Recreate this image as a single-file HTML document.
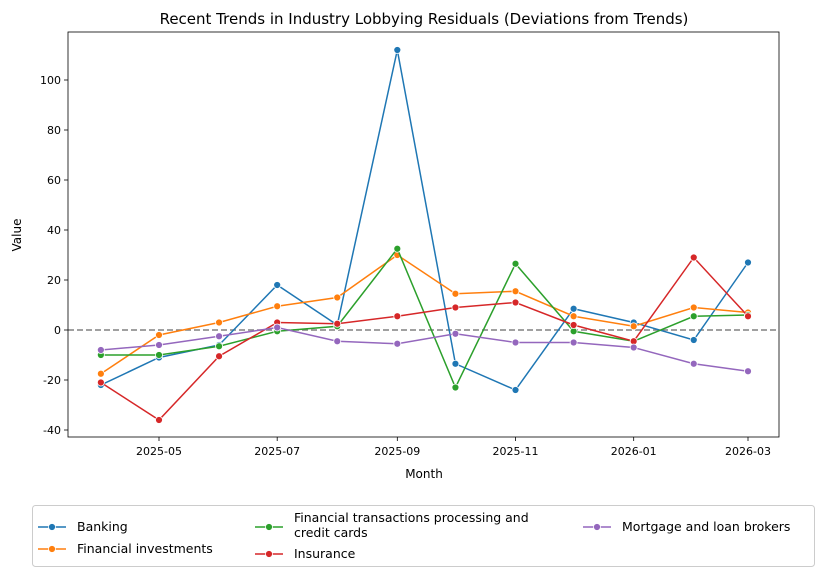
<!DOCTYPE html>
<html><head><meta charset="utf-8">
<style>
body{margin:0;background:#fff;font-family:"Liberation Sans","DejaVu Sans",sans-serif;}
svg text{font-family:"DejaVu Sans","Liberation Sans",sans-serif;fill:#000;}
</style></head>
<body>
<svg id="chart" width="824" height="577" xmlns="http://www.w3.org/2000/svg">
<rect width="824" height="577" fill="#fff"/>
<text x="424" y="24" font-size="15" text-anchor="middle">Recent Trends in Industry Lobbying Residuals (Deviations from Trends)</text>
<g id="grid"></g>
<rect x="68" y="32" width="711" height="405" fill="none" stroke="#000" stroke-width="0.8"/>
<text x="424" y="478" font-size="12" text-anchor="middle">Month</text>
<text transform="translate(21,235) rotate(-90)" font-size="12" text-anchor="middle">Value</text>
<g id="series"></g>
<g id="legend"></g>
</svg>
<script>
const months=["2025-04","2025-05","2025-06","2025-07","2025-08","2025-09","2025-10","2025-11","2025-12","2026-01","2026-02","2026-03"];
const seriesNames=["Banking","Financial investments","Financial transactions processing and credit cards","Insurance","Mortgage and loan brokers"];
const banking=[-22,-11,-6,18,2,112,-13.5,-24,8.5,3,-4,27];
const finInvest=[-17.5,-2,3,9.5,13,30,14.5,15.5,5.5,1.5,9,7];
const finTrans=[-10,-10,-6.5,-0.5,1.5,32.5,-23,26.5,-0.5,-4.5,5.5,6];
const insurance=[-21,-36,-10.5,3,2.5,5.5,9,11,2,-4.5,29,5.5];
const mortgage=[-8,-6,-2.5,1,-4.5,-5.5,-1.5,-5,-5,-7,-13.5,-16.5];
const yTicks=[-40,-20,0,20,40,60,80,100];
const xTicks=["2025-05","2025-07","2025-09","2025-11","2026-01","2026-03"];
const colors=["#1f77b4","#ff7f0e","#2ca02c","#d62728","#9467bd"];
const NS="http://www.w3.org/2000/svg";
function days(m){const [y,mo]=m.split("-").map(Number);return Date.UTC(y,mo-1,1)/864e5;}
const d0=days("2025-05"),d1=days("2026-03");
function X(m){return 159+(days(m)-d0)*(748-159)/(d1-d0);}
function Y(v){return 330-v*2.5;}
function el(t,a,p){const e=document.createElementNS(NS,t);for(const k in a)e.setAttribute(k,a[k]);p.appendChild(e);return e;}
const svg=document.getElementById("chart"),grid=document.getElementById("grid"),ser=document.getElementById("series"),leg=document.getElementById("legend");
yTicks.forEach(v=>{const y=Y(v);
 const t=el("line",{x1:64,x2:68,y1:y,y2:y,stroke:"#000","stroke-width":0.8},grid);
 
 const l=el("text",{x:61,y:y+4,"font-size":11,"text-anchor":"end"},grid);l.textContent=v;
 });
xTicks.forEach(m=>{const x=X(m);
 const t=el("line",{x1:x,x2:x,y1:437,y2:441,stroke:"#000","stroke-width":0.8},grid);
 
 const l=el("text",{x:x,y:455,"font-size":11,"text-anchor":"middle"},grid);l.textContent=m;
 });
const zl=el("line",{x1:68,x2:779,y1:Y(0),y2:Y(0),stroke:"#808080","stroke-width":1.5,"stroke-dasharray":"6,3"},grid);

[banking,finInvest,finTrans,insurance,mortgage].forEach((s,i)=>{
 const g=el("g",{},ser);
 
 const p=el("polyline",{points:s.map((v,j)=>X(months[j])+","+Y(v)).join(" "),fill:"none",stroke:colors[i],"stroke-width":1.5},g);
 
 s.forEach((v,j)=>{const c=el("circle",{cx:X(months[j]),cy:Y(v),r:3.5,fill:colors[i],stroke:"#fff","stroke-width":0.8},g);
  });
});
const lb=el("rect",{x:32.5,y:505.5,width:782,height:61,rx:3,fill:"#fff",stroke:"#ccc"},leg);

const pos=[[38,527],[38,549],[255,527],[255,554],[583,527]];
seriesNames.forEach((n,i)=>{const [x,y]=pos[i];
 const g=el("g",{},leg);
 
 el("line",{x1:x,x2:x+28,y1:y,y2:y,stroke:colors[i],"stroke-width":1.5},g);
 el("circle",{cx:x+14,cy:y,r:3.5,fill:colors[i],stroke:"#fff","stroke-width":0.8},g);
 if(i===2){const t=el("text",{x:x+39,y:y-5,"font-size":12.5},g);t.textContent="Financial transactions processing and";
  const t2=el("text",{x:x+39,y:y+10,"font-size":12.5},g);t2.textContent="credit cards";}
 else{const t=el("text",{x:x+39,y:y+4,"font-size":12.5},g);t.textContent=n;}
});
</script>
</body></html>
